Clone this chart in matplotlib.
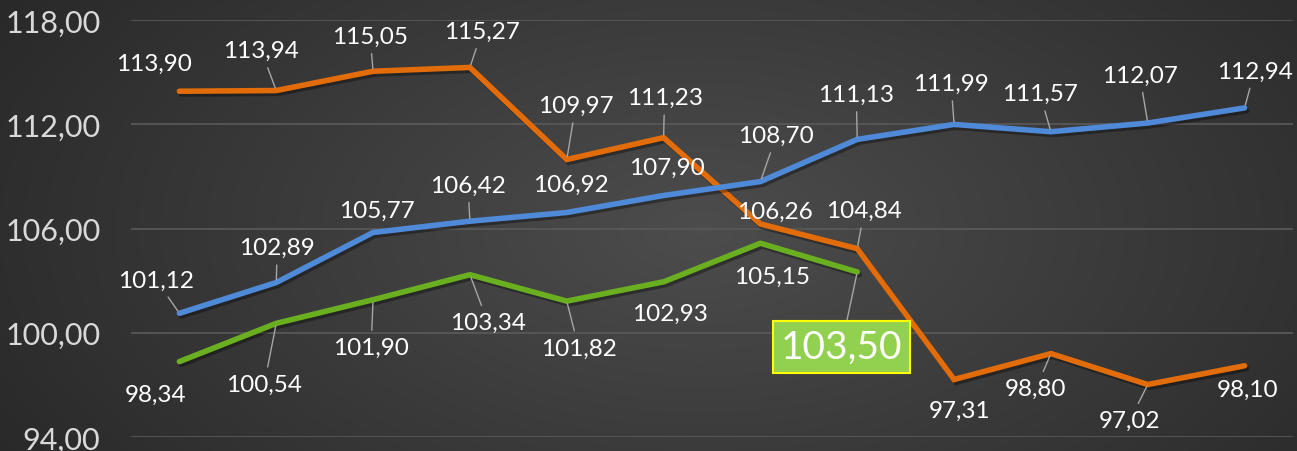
"""Three price series with data labels (Excel-style dark chart)."""
import matplotlib
matplotlib.use("Agg")
import matplotlib.pyplot as plt
import matplotlib.patheffects as pe
import numpy as np

# --- data -------------------------------------------------------------
orange_vals = [113.90, 113.94, 115.05, 115.27, 109.97, 111.23,
               106.26, 104.84, 97.31, 98.80, 97.02, 98.10]
blue_vals = [101.12, 102.89, 105.77, 106.42, 106.92, 107.90,
             108.70, 111.13, 111.99, 111.57, 112.07, 112.94]
green_vals = [98.34, 100.54, 101.90, 103.34, 101.82, 102.93, 105.15, 103.50]
y_ticks = [94, 100, 106, 112, 118]

# label offsets in pixels (dx, dy; dy up) and whether a leader line is drawn
orange_offsets = [(-25, 28), (-15, 40), (-3, 35), (12, 36), (9, 54), (1, 40),
                  (15, 13), (7, 38), (5, -31), (-15, -35), (-18, -36), (3, -24)]
orange_leader = [0, 1, 1, 1, 1, 1, 0, 1, 0, 1, 1, 0]
blue_offsets = [(-23, 33), (1, 35), (4, 22), (-2, 36), (4, 28), (3, 28),
                (16, 46), (-1, 45), (-3, 41), (-11, 38), (-8, 48), (10, 37)]
blue_leader = [1, 1, 0, 1, 0, 0, 1, 1, 1, 1, 1, 1]
green_offsets = [(-24, -33), (-12, -61), (-2, -48), (18, -48), (12, -47),
                 (6, -32), (12, -33), (-16, -75)]
green_leader = [0, 1, 1, 1, 1, 0, 0, 1]

ORANGE = "#e36c0a"
BLUE = "#4f8ad8"
GREEN = "#6aaf1f"
FONT = ["Lato", "DejaVu Sans"]


def fmt(v):
    return f"{v:.2f}".replace(".", ",")


fig = plt.figure(figsize=(12.97, 4.52), dpi=100)

# radial background gradient
bg = fig.add_axes([0, 0, 1, 1], zorder=-10)
yy, xx = np.mgrid[0:452, 0:1297]
r = np.sqrt(((xx - 700) / 760.0) ** 2 + ((yy - 230) / 420.0) ** 2)
shade = np.clip(0.30 - 0.13 * r, 0.15, 0.30)
bg.imshow(np.dstack([shade] * 3), aspect="auto", extent=[0, 1, 0, 1],
          origin="upper")
bg.set_axis_off()

ax = fig.add_axes([131 / 1297, 14 / 452, 1162 / 1297, 417 / 452])
ax.patch.set_alpha(0)
for s in ax.spines.values():
    s.set_visible(False)

ax.set_xlim(-0.5, 11.5)
ax.set_ylim(94, 118)
ax.set_yticks(y_ticks)
ax.set_yticklabels([fmt(t) for t in y_ticks], color="#d9d9d9",
                   fontsize=22, family=FONT)
ax.tick_params(axis="y", length=0, pad=22)
ax.set_xticks([])
ax.grid(axis="y", color="#5a5a5a", lw=1.2)
ax.set_axisbelow(True)

shadow = [pe.SimpleLineShadow(offset=(1.5, -2), alpha=0.35, shadow_color="black"),
          pe.Normal()]


def draw(vals, color, offsets, leaders):
    x = np.arange(len(vals))
    ax.plot(x, vals, color=color, lw=4, solid_capstyle="round",
            solid_joinstyle="miter", path_effects=shadow, zorder=3)
    for i, v in enumerate(vals):
        dx, dy = offsets[i]
        ap = None
        if leaders[i]:
            ap = dict(arrowstyle="-", color="#a6a6a6", lw=1,
                      shrinkA=3, shrinkB=2)
        ax.annotate(fmt(v), (i, v), xytext=(dx, dy), textcoords="offset pixels",
                    ha="center", va="center", color="white", fontsize=17.5,
                    family=FONT, arrowprops=ap, zorder=5)


draw(orange_vals, ORANGE, orange_offsets, orange_leader)
draw(blue_vals, BLUE, blue_offsets, blue_leader)

# green series: last label is highlighted
x = np.arange(len(green_vals))
ax.plot(x, green_vals, color=GREEN, lw=4, solid_capstyle="round",
        solid_joinstyle="miter", path_effects=shadow, zorder=3)
for i, v in enumerate(green_vals):
    dx, dy = green_offsets[i]
    ap = None
    if green_leader[i]:
        ap = dict(arrowstyle="-", color="#a6a6a6", lw=1, shrinkA=0, shrinkB=2)
    if i == len(green_vals) - 1:
        ax.annotate(fmt(v), (i, v), xytext=(dx, dy), textcoords="offset pixels",
                    ha="center", va="center", color="white", fontsize=28,
                    family=FONT, arrowprops=ap, zorder=6,
                    bbox=dict(boxstyle="square,pad=0.2", fc="#92d050",
                              ec="#ffff00", lw=1.5))
    else:
        ap and ap.update(shrinkA=3)
        ax.annotate(fmt(v), (i, v), xytext=(dx, dy), textcoords="offset pixels",
                    ha="center", va="center", color="white", fontsize=17.5,
                    family=FONT, arrowprops=ap, zorder=5)

fig.savefig("out.png", dpi=100)
